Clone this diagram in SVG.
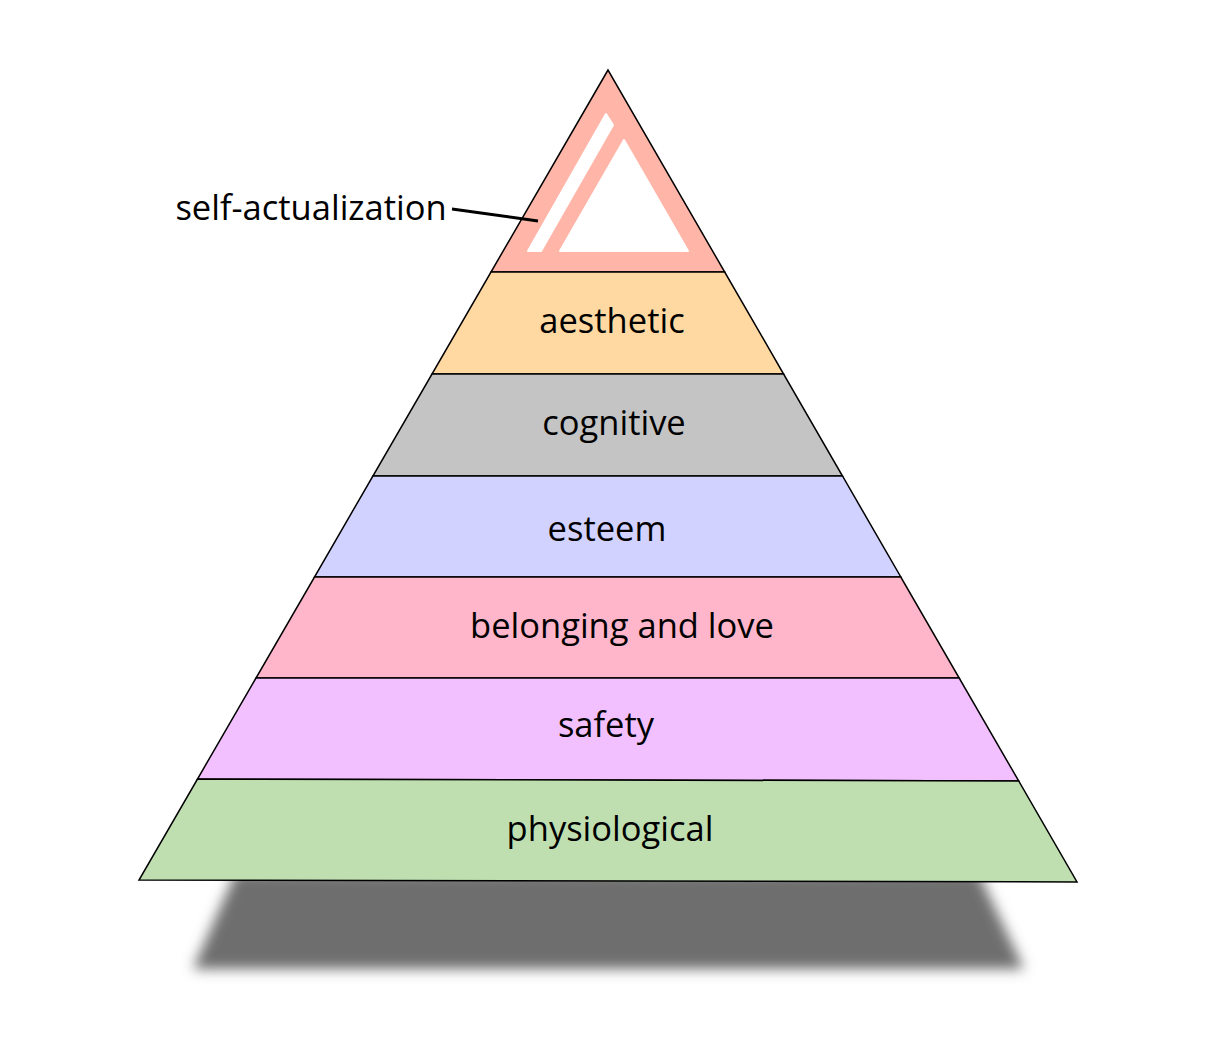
<svg xmlns="http://www.w3.org/2000/svg" width="1218" height="1055" viewBox="0 0 1218 1055">
<defs>
<filter id="blur" x="-20%" y="-50%" width="140%" height="200%"><feGaussianBlur stdDeviation="6.5"/></filter>
<style>
.layer{stroke:#000;stroke-width:1.5;stroke-linejoin:miter}
.lbl{font-family:"Open Sans","Noto Sans",sans-serif;font-size:34.5px;fill:#000;text-anchor:middle}
.hole{fill:#fff;stroke:#fff;stroke-width:2;stroke-linejoin:round}
</style>
</defs>
<rect width="1218" height="1055" fill="#fff"/>
<g id="shadow"><polygon points="236,872 978,872 1024,969 193,969" fill="#6e6e6e" filter="url(#blur)"/></g>
<g id="self-actualization">
<polygon class="layer" points="608,70 491,272 724.7,272" fill="#ffb6a8"/>
<polygon class="hole" points="606,114 613,125 541,251 528,251"/>
<polygon class="hole" points="624,140 688,251 560,251"/>
</g>
<g id="aesthetic"><polygon class="layer" points="491,272 724.7,272 783.6,374 432,374" fill="#ffd9a1"/><text class="lbl" x="612" y="333">aesthetic</text></g>
<g id="cognitive"><polygon class="layer" points="432,374 783.6,374 842.5,476 372.9,476" fill="#c4c4c4"/><text class="lbl" x="614" y="435">cognitive</text></g>
<g id="esteem"><polygon class="layer" points="372.9,476 842.5,476 900.8,577 314.5,577" fill="#d1d2ff"/><text class="lbl" x="607" y="541">esteem</text></g>
<g id="belonging"><polygon class="layer" points="314.5,577 900.8,577 959.2,678 256,678" fill="#ffb6cb"/><text class="lbl" x="622" y="638">belonging and love</text></g>
<g id="safety"><polygon class="layer" points="256,678 959.2,678 1018.7,781 197.5,779" fill="#f3c0ff"/><text class="lbl" x="606" y="737">safety</text></g>
<g id="physiological"><polygon class="layer" points="197.5,779 1018.7,781 1077,882 139,880" fill="#bfdfb1"/><text class="lbl" x="610" y="841">physiological</text></g>
<g id="connectors"><line x1="452" y1="209" x2="538" y2="221" stroke="#000" stroke-width="3"/></g>
<g id="label-self"><text class="lbl" x="311" y="220">self-actualization</text></g>
</svg>
